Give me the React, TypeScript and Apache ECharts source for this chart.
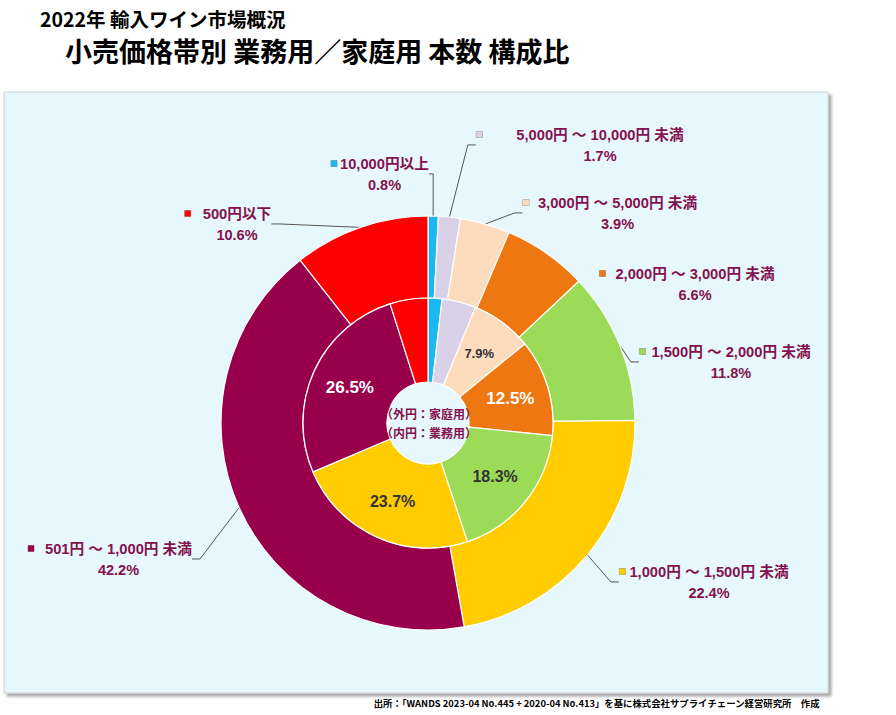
import React, { useEffect, useRef } from "react";
import * as echarts from "echarts";

const categories = [
  "10,000円以上",
  "5,000円 ～ 10,000円 未満",
  "3,000円 ～ 5,000円 未満",
  "2,000円 ～ 3,000円 未満",
  "1,500円 ～ 2,000円 未満",
  "1,000円 ～ 1,500円 未満",
  "501円 ～ 1,000円 未満",
  "500円以下",
];
// outer ring: 家庭用 (home use), share of bottles (%)
const homeShare = [0.8, 1.7, 3.9, 6.6, 11.8, 22.4, 42.2, 10.6];
// inner ring: 業務用 (business use), share of bottles (%)
const businessShare = [1.8, 4.4, 7.9, 12.5, 18.3, 23.7, 26.5, 4.9];

const titleLine1 = "2022年 輸入ワイン市場概況";
const titleLine2 = "小売価格帯別 業務用／家庭用 本数 構成比";
const centerLine1 = "（外円：家庭用）";
const centerLine2 = "（内円：業務用）";
const sourceNote =
  "出所：「WANDS 2023-04 No.445 + 2020-04 No.413」を基に株式会社サプライチェーン経営研究所　作成";

// styling / layout (not data)
const sliceColors = ["#1ab8ee", "#d9d1e8", "#fddcbd", "#ee7712", "#9bdb57", "#ffcc00", "#99004c", "#ff0000"];
const innerLabelShown = [false, false, true, true, true, true, true, false];
const innerLabelColors = ["#333", "#333", "#333", "#fff", "#333", "#333", "#fff", "#333"];
const innerLabelSizes = [14, 14, 13, 17, 16, 16, 17, 14];
const outerLabelCenters = [
  [380, 153],
  [580, 124],
  [610, 192],
  [687, 263],
  [725, 341],
  [704, 561],
  [110, 538],
  [228, 203],
];
const outerLabelGaps = [3, 34, 9, 10, 6, 4, 11, 12];
const outerLineShown = [true, true, true, false, true, true, true, true];

const LABEL_COLOR = "#85114e";
const FONT = "'Liberation Sans', 'Noto Sans CJK JP', sans-serif";
const CJK = "'Noto Sans CJK JP', sans-serif";

export default function App() {
  const ref = useRef<HTMLDivElement>(null);

  useEffect(() => {
    if (!ref.current) return;
    const chart = echarts.init(ref.current, undefined, { renderer: "svg" });

    const outerData = categories.map((name, i) => ({
      name,
      value: homeShare[i],
      itemStyle: { color: sliceColors[i] },
      labelLine: { show: outerLineShown[i] },
      label: {
        rich: {
          sq: { width: 6, height: 6, backgroundColor: sliceColors[i], borderColor: "#999", borderWidth: 0.5 },
          sqh: { width: 6, height: 6 },
          gp: { width: outerLabelGaps[i] },
          t: { fontSize: 14.7, fontWeight: "bold", color: LABEL_COLOR, fontFamily: FONT, lineHeight: 21 },
          p: { fontSize: 14.5, fontWeight: "bold", color: LABEL_COLOR, fontFamily: FONT, lineHeight: 21 },
        },
      },
    }));

    const innerData = categories.map((name, i) => ({
      name,
      value: businessShare[i],
      itemStyle: { color: sliceColors[i] },
      label: {
        show: innerLabelShown[i],
        color: innerLabelColors[i],
        fontSize: innerLabelSizes[i],
      },
    }));

    const option: any = {
      animation: false,
      graphic: [
        {
          type: "rect",
          z: 0,
          shape: { x: 4, y: 92, width: 824, height: 601 },
          style: {
            fill: "#e6f8fd",
            stroke: "#cfcfcf",
            lineWidth: 1,
            shadowBlur: 3,
            shadowOffsetX: 3,
            shadowOffsetY: 3,
            shadowColor: "rgba(0,0,0,0.35)",
          },
        },
        {
          type: "text",
          z: 100,
          x: 40,
          y: 4,
          style: {
            text: `{a|${titleLine1}}\n{s|}{b|${titleLine2}}`,
            fill: "#000",
            rich: {
              a: { fontFamily: CJK, fontWeight: "bold", fontSize: 19.5, lineHeight: 28, fill: "#000" },
              s: { width: 25, lineHeight: 36 },
              b: { fontFamily: CJK, fontWeight: "bold", fontSize: 27, lineHeight: 36, fill: "#000" },
            },
          },
        },
        {
          type: "text",
          z: 100,
          x: 429,
          y: 423,
          style: {
            text: centerLine1 + "\n" + centerLine2,
            font: `bold 12px ${CJK}`,
            fill: LABEL_COLOR,
            align: "center",
            verticalAlign: "middle",
            lineHeight: 19,
          },
        },
        {
          type: "text",
          z: 100,
          right: 76,
          top: 698,
          style: { text: sourceNote, font: `bold 9.4px ${CJK}`, fill: "#000" },
        },
      ],
      series: [
        {
          type: "pie",
          name: "家庭用",
          z: 5,
          center: [428, 423],
          radius: [125, 207],
          startAngle: 90,
          clockwise: true,
          avoidLabelOverlap: false,
          itemStyle: { borderColor: "#ffffff", borderWidth: 1.2 },
          label: {
            show: true,
            position: "outside",
            fontFamily: FONT,
            formatter: (p: any) => `{sq|}{gp|}{t|${p.name}}\n{sqh|}{gp|}{p|${Number(p.value).toFixed(1)}%}`,
          },
          labelLine: { show: true, length: 12, length2: 8, lineStyle: { color: "#555", width: 1 } },
          labelLayout: (params: any) => {
            const c = outerLabelCenters[params.dataIndex];
            return { x: c[0], y: c[1], align: "center", verticalAlign: "top" };
          },
          data: outerData,
        },
        {
          type: "pie",
          name: "業務用",
          z: 6,
          center: [428, 423],
          radius: [41, 125],
          startAngle: 90,
          clockwise: true,
          avoidLabelOverlap: false,
          itemStyle: { borderColor: "#ffffff", borderWidth: 1.2 },
          label: {
            position: "inside",
            fontFamily: FONT,
            fontWeight: "bold",
            formatter: (p: any) => `${Number(p.value).toFixed(1)}%`,
          },
          labelLine: { show: false },
          data: innerData,
        },
      ],
    };

    chart.setOption(option);
    return () => chart.dispose();
  }, []);

  return (
    <div
      ref={ref}
      style={{ position: "fixed", left: 0, top: 0, width: 896, height: 715, background: "#fff" }}
    />
  );
}
